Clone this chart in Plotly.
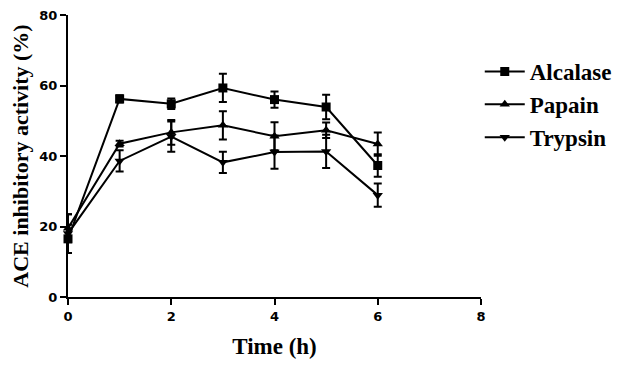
import plotly.graph_objects as go

time_h = [0, 1, 2, 3, 4, 5, 6]
alcalase = [16.5, 56.2, 54.8, 59.3, 56.0, 53.9, 37.3]
alcalase_err = [4.0, 1.0, 1.5, 4.0, 2.3, 3.5, 3.2]
papain = [19.5, 43.5, 46.7, 48.7, 45.6, 47.3, 43.4]
papain_err = [4.0, 0.8, 3.5, 4.0, 4.0, 2.2, 3.3]
trypsin = [18.0, 38.6, 45.5, 38.2, 41.1, 41.3, 28.9]
trypsin_err = [5.5, 3.0, 4.3, 3.0, 4.7, 4.7, 3.3]

x_ticks = [0, 2, 4, 6, 8]
y_ticks = [0, 20, 40, 60, 80]

series = [
    ("Alcalase", alcalase, alcalase_err, "square", 9),
    ("Papain", papain, papain_err, "triangle-up", 9),
    ("Trypsin", trypsin, trypsin_err, "triangle-down", 9),
]

fig = go.Figure()
for i, (name, vals, errs, sym, sz) in enumerate(series):
    fig.add_trace(go.Scatter(
        x=time_h, y=vals, name=name, mode="lines+markers",
        line=dict(color="black", width=2),
        marker=dict(symbol=sym, size=sz, color="black"),
        error_y=dict(type="data", array=errs, visible=True,
                     color="black", thickness=2, width=4),
        legendgroup=name,
        cliponaxis=False,
    ))

tick_font = dict(family="DejaVu Sans, Verdana, sans-serif", size=13, color="black", weight="bold")
serif = "Liberation Serif, Times New Roman, serif"

# page body has an 8px default margin, so the figure is offset by (8, 8)
fig.update_layout(
    width=616, height=357,
    margin=dict(l=60, r=143, t=7, b=68, autoexpand=False),
    paper_bgcolor="white", plot_bgcolor="white",
    showlegend=True,
    legend=dict(
        x=0.997, xanchor="left", y=0.876, yanchor="top",
        font=dict(family=serif, size=23, color="black", weight="bold"),
        tracegroupgap=0, traceorder="grouped",
        bgcolor="rgba(0,0,0,0)", itemwidth=40,
    ),
    xaxis=dict(
        range=[0, 8], tickvals=x_ticks, ticktext=[str(v) for v in x_ticks],
        showline=True, linecolor="black", linewidth=2,
        ticks="outside", ticklen=6, tickwidth=2, tickcolor="black",
        showgrid=False, zeroline=False, tickfont=tick_font, automargin=False,
        ticklabeloverflow="allow",
        title=dict(text="Time (h)", font=dict(family=serif, size=23, color="black", weight="bold"), standoff=15),
    ),
    yaxis=dict(
        range=[0, 80], tickvals=y_ticks, ticktext=[str(v) for v in y_ticks],
        showline=True, linecolor="black", linewidth=2,
        ticks="outside", ticklen=6, tickwidth=2, tickcolor="black",
        showgrid=False, zeroline=False, tickfont=tick_font, automargin=False,
        ticklabeloverflow="allow",
        title=dict(text="ACE inhibitory activity (%)", font=dict(family=serif, size=22, color="black", weight="bold"), standoff=6),
    ),
)

fig.write_html("out.html")
